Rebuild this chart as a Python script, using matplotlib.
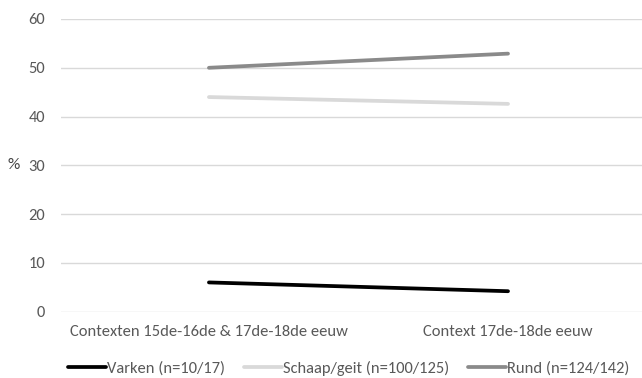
import matplotlib.pyplot as plt
from matplotlib import font_manager

# categories and series
categories = ['Contexten 15de-16de & 17de-18de eeuw', 'Context 17de-18de eeuw']
varken = [6.0, 4.2]
schaap = [44.0, 42.6]
rund = [50.0, 52.9]
series_names = ['Varken (n=10/17)', 'Schaap/geit (n=100/125)', 'Rund (n=124/142)']
yticks = [0, 10, 20, 30, 40, 50, 60]

# Calibri look-alike if present
installed = {f.name for f in font_manager.fontManager.ttflist}
fam = 'Lato'
for cand in ['Carlito', 'Roboto Condensed', 'Open Sans Condensed', 'Archivo Narrow']:
    if cand in installed:
        fam = cand
        break
plt.rcParams['font.family'] = [fam, 'DejaVu Sans']
txt = '#595959'

fig = plt.figure(figsize=(6.42, 3.78), dpi=100)

# pick the font size so the second category label is ~170 px wide, as in the reference
renderer = fig.canvas.get_renderer()
probe = fig.text(0, 0, categories[1], fontsize=10)
w = probe.get_window_extent(renderer).width
probe.remove()
fs = 10 * 170 / w
em = fs * 100 / 72  # font size in pixels

ax = fig.add_axes([60.6/642, 66.3/378, 1 - 60.6/642, 292.7/378])

x = range(len(categories))
ax.plot(x, varken, color='black', lw=2.7, solid_capstyle='round', label=series_names[0])
ax.plot(x, schaap, color='#d9d9d9', lw=2.7, solid_capstyle='round', label=series_names[1])
ax.plot(x, rund, color='#8a8a8a', lw=2.7, solid_capstyle='round', label=series_names[2])

ax.set_xlim(-0.496, 1.448)
ax.set_ylim(0, 60)
ax.set_yticks(yticks)
ax.set_xticks(list(x))
ax.set_xticklabels(categories)
ax.grid(axis='y', color='#d9d9d9', lw=1)
ax.set_axisbelow(True)
for s in ax.spines.values():
    s.set_visible(False)
ax.tick_params(length=0, colors=txt, labelsize=fs)
ax.tick_params(axis='y', pad=11)
ax.tick_params(axis='x', pad=9.5)
fig.text(13.5/642, 1 - 165/378, '%', color='#404040', fontsize=fs + 0.5, ha='center', va='center')

ax.legend(loc='center', bbox_to_anchor=(349/642, 10/378), bbox_transform=fig.transFigure,
          ncol=3, frameon=False, fontsize=fs, handlelength=38/em, handletextpad=0.05,
          columnspacing=19/em, labelcolor=txt, borderpad=0)

fig.savefig('out.png', dpi=100)
